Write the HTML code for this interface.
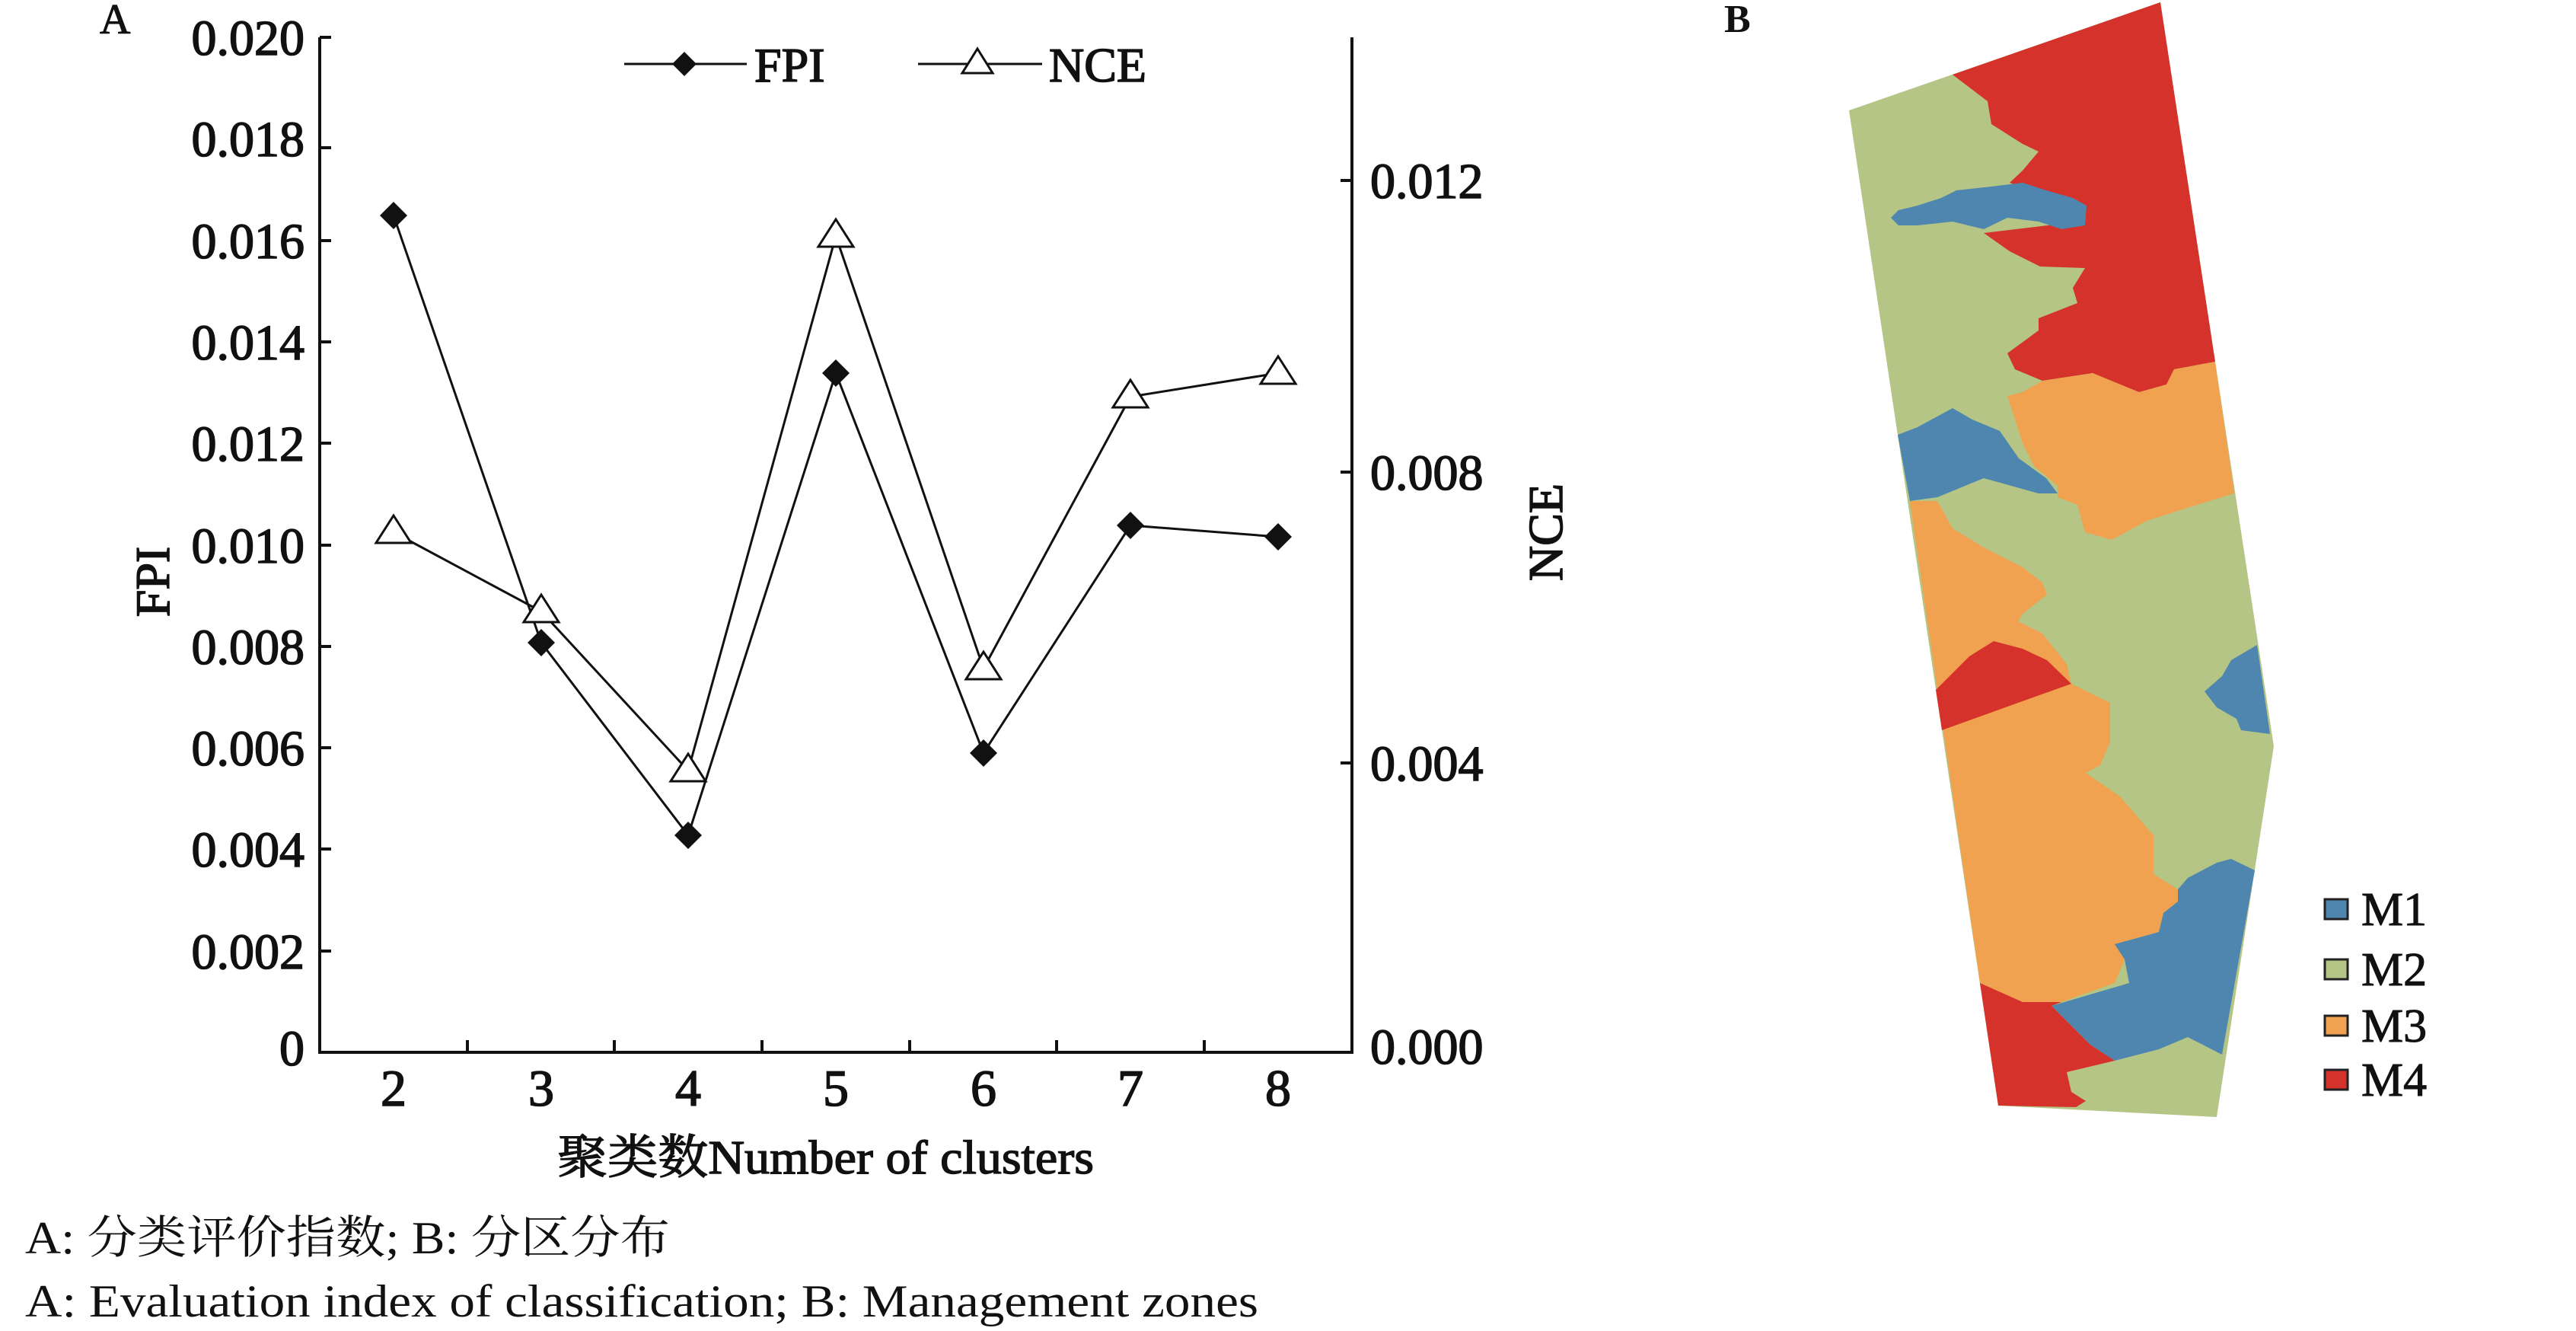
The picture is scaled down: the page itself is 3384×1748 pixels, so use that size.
<!DOCTYPE html>
<html><head><meta charset="utf-8"><style>html,body{margin:0;padding:0;background:#fff}svg{display:block}</style></head>
<body>
<svg width="3384" height="1748" viewBox="0 0 3384 1748" xmlns="http://www.w3.org/2000/svg" font-family="'Liberation Serif','Noto Serif CJK SC',serif" fill="#111">
<rect width="3384" height="1748" fill="#fff"/>
<text x="131" y="44" font-size="56" stroke="#111" stroke-width="1">A</text>
<g stroke="#111" stroke-width="4" fill="none">
<polyline points="420,49 420,1382 1776,1382 1776,49"/>
<path d="M420,49h15 M420,194h15 M420,316h15 M420,449h15 M420,582h15 M420,716h15 M420,849h15 M420,982h15 M420,1115h15 M420,1249h15"/>
<path d="M1776,237h-15 M1776,620h-15 M1776,1002h-15"/>
<path d="M614,1382v-16 M807,1382v-16 M1001,1382v-16 M1195,1382v-16 M1388,1382v-16 M1582,1382v-16"/>
</g>
<g font-size="66" stroke="#111" stroke-width="1.6" text-anchor="end">
<text x="400" y="72">0.020</text><text x="400" y="205">0.018</text><text x="400" y="339">0.016</text><text x="400" y="472">0.014</text><text x="400" y="605">0.012</text><text x="400" y="739">0.010</text><text x="400" y="872">0.008</text><text x="400" y="1005">0.006</text><text x="400" y="1138">0.004</text><text x="400" y="1272">0.002</text><text x="400" y="1399">0</text>
</g>
<g font-size="66" stroke="#111" stroke-width="1.6">
<text x="1800" y="260">0.012</text><text x="1800" y="643">0.008</text><text x="1800" y="1025">0.004</text><text x="1800" y="1397">0.000</text>
</g>
<g font-size="68" stroke="#111" stroke-width="1.6" text-anchor="middle">
<text x="517" y="1452">2</text><text x="711" y="1452">3</text><text x="904" y="1452">4</text><text x="1098" y="1452">5</text><text x="1292" y="1452">6</text><text x="1485" y="1452">7</text><text x="1679" y="1452">8</text>
</g>
<text x="732" y="1541" font-size="62" stroke="#111" stroke-width="1.4" textLength="705" lengthAdjust="spacingAndGlyphs">聚类数Number of clusters</text>
<text transform="translate(222,764) rotate(-90)" font-size="64" stroke="#111" stroke-width="1.6" text-anchor="middle">FPI</text>
<text transform="translate(2052,699) rotate(-90)" font-size="64" stroke="#111" stroke-width="1.6" text-anchor="middle">NCE</text>
<g stroke="#111" stroke-width="3" fill="none">
<polyline points="517,283 711,844 904,1097 1098,490 1292,989 1485,690 1679,705"/>
<polyline points="517,699 711,803 904,1012 1098,310 1292,878 1485,521 1679,490"/>
<line x1="820" y1="84" x2="981" y2="84"/><line x1="1206" y1="84" x2="1369" y2="84"/>
</g>
<g fill="#111">
<path d="M517,265l18,18l-18,18l-18,-18z"/><path d="M711,826l18,18l-18,18l-18,-18z"/><path d="M904,1079l18,18l-18,18l-18,-18z"/><path d="M1098,472l18,18l-18,18l-18,-18z"/><path d="M1292,971l18,18l-18,18l-18,-18z"/><path d="M1485,672l18,18l-18,18l-18,-18z"/><path d="M1679,687l18,18l-18,18l-18,-18z"/><path d="M899,68l16,16l-16,16l-16,-16z"/>
</g>
<g fill="#fff" stroke="#111" stroke-width="3">
<path d="M517,677l23,36h-46z"/><path d="M711,781l23,36h-46z"/><path d="M904,990l23,36h-46z"/><path d="M1098,288l23,36h-46z"/><path d="M1292,856l23,36h-46z"/><path d="M1485,499l23,36h-46z"/><path d="M1679,468l23,36h-46z"/><path d="M1284,64l20,32h-40z"/>
</g>
<g font-size="64" stroke="#111" stroke-width="1.6"><text x="991" y="107">FPI</text><text x="1378" y="107">NCE</text></g>
<text x="33" y="1646" font-size="60" textLength="847" lengthAdjust="spacingAndGlyphs">A: 分类评价指数; B: 分区分布</text>
<text x="33" y="1729" font-size="60" textLength="1620" lengthAdjust="spacingAndGlyphs">A: Evaluation index of classification; B: Management zones</text>
<text x="2265" y="42" font-size="52" font-weight="bold">B</text>
<polygon fill="#b5c586" points="2429,145 2838,3 2987,980 2912,1467 2625,1452"/>
<polygon fill="#d4322a" points="2565,98 2611,133 2616,163 2657,189 2678,199 2657,224 2640,240 2700,260 2740,290 2606,306 2640,330 2680,350 2739,352 2723,378 2729,398 2678,418 2678,434 2637,464 2647,485 2683,500 2749,490 2810,515 2846,505 2856,485 2910,475 2838,3"/>
<polygon fill="#4e86b0" points="2484,286 2494,296 2519,296 2565,291 2606,301 2637,286 2678,291 2708,301 2739,296 2741,270 2723,260 2688,250 2657,240 2616,245 2570,250 2550,260 2519,270 2494,276"/>
<polygon fill="#f0a250" points="2637,520 2657,515 2683,500 2749,490 2810,515 2846,505 2856,485 2910,475 2935,648 2902,658 2820,684 2774,709 2739,699 2729,663 2703,653 2703,638 2672,612 2657,582 2647,551"/>
<polygon fill="#4e86b0" points="2493,571 2519,561 2565,536 2591,551 2627,566 2652,602 2688,628 2703,648 2678,648 2606,628 2545,653 2509,658"/>
<polygon fill="#f0a250" points="2509,658 2545,658 2565,694 2606,719 2657,745 2683,765 2689,781 2657,806 2651,816 2683,832 2715,872 2721,898 2772,923 2772,974 2759,1005 2740,1015 2785,1046 2829,1097 2829,1148 2861,1168 2861,1184 2842,1199 2836,1224 2778,1240 2791,1260 2778,1291 2708,1316 2657,1316 2601,1291"/>
<polygon fill="#d4322a" points="2543,906 2587,862 2619,842 2657,852 2689,867 2721,898 2651,923 2551,959"/>
<polygon fill="#4e86b0" points="2965,847 2931,867 2919,888 2896,908 2912,929 2938,944 2944,959 2982,964"/>
<polygon fill="#4e86b0" points="2931,1128 2962,1143 2919,1385 2874,1362 2836,1378 2778,1393 2746,1372 2695,1321 2746,1306 2797,1291 2791,1260 2778,1240 2836,1224 2842,1199 2861,1184 2861,1168 2874,1153 2912,1133"/>
<polygon fill="#d4322a" points="2601,1291 2657,1316 2708,1316 2695,1321 2746,1372 2778,1393 2715,1408 2721,1434 2740,1446 2727,1454 2625,1452"/>
<g stroke="#222" stroke-width="3">
<rect x="3054" y="1181" width="30" height="26" fill="#4e86b0"/>
<rect x="3054" y="1260" width="30" height="26" fill="#b5c586"/>
<rect x="3054" y="1334" width="30" height="26" fill="#f0a250"/>
<rect x="3054" y="1405" width="30" height="26" fill="#d4322a"/>
</g>
<g font-size="62" stroke="#111" stroke-width="1"><text x="3102" y="1215">M1</text><text x="3102" y="1294">M2</text><text x="3102" y="1368">M3</text><text x="3102" y="1439">M4</text></g>
</svg>
</body></html>
